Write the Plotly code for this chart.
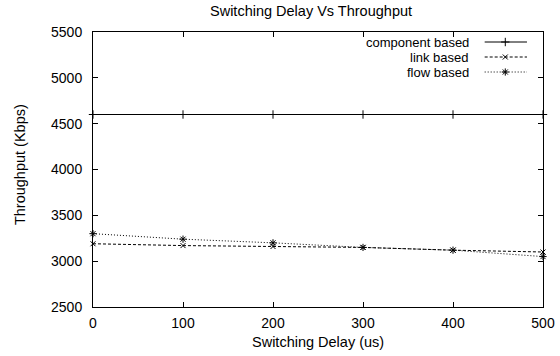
import plotly.graph_objects as go

delay = [0, 100, 200, 300, 400, 500]
component_based = [4600, 4600, 4600, 4600, 4600, 4600]
link_based = [3190, 3170, 3160, 3150, 3120, 3100]
flow_based = [3300, 3240, 3200, 3150, 3120, 3050]

series_names = ["component based", "link based", "flow based"]
x_ticks = [0, 100, 200, 300, 400, 500]
y_ticks = [2500, 3000, 3500, 4000, 4500, 5000, 5500]

FONT = "Liberation Sans, Arial, sans-serif"
TXT = 14.5
styles = [
    dict(dash="solid", symbol="cross-thin-open", size=6),
    dict(dash="3px,2px", symbol="x-thin-open", size=5),
    dict(dash="1px,2px", symbol="asterisk-open", size=6),
]

fig = go.Figure()
for name, ys, st in zip(series_names, [component_based, link_based, flow_based], styles):
    fig.add_trace(go.Scatter(
        x=delay, y=ys, mode="lines+markers", name=name, showlegend=False,
        line=dict(color="black", width=1, dash=st["dash"]),
        marker=dict(symbol=st["symbol"], size=st["size"], color="black",
                    line=dict(color="black", width=1)),
        cliponaxis=False,
    ))

# custom legend (text left, sample right) on an overlay axis in 0..1 space
leg_y = [0.9636, 0.9091, 0.8545]
for name, yy, st in zip(series_names, leg_y, styles):
    fig.add_trace(go.Scatter(
        x=[0.8704, 0.9162, 0.9644], y=[yy, yy, yy], xaxis="x2", yaxis="y2",
        mode="lines", showlegend=False, hoverinfo="skip",
        line=dict(color="black", width=1, dash=st["dash"]),
    ))
    fig.add_trace(go.Scatter(
        x=[0.9162], y=[yy], xaxis="x2", yaxis="y2", mode="markers",
        showlegend=False, hoverinfo="skip",
        marker=dict(symbol=st["symbol"], size=st["size"], color="black",
                    line=dict(color="black", width=1)),
    ))
    fig.add_annotation(x=0.838, y=yy, xref="x2", yref="y2", text=name,
                       showarrow=False, xanchor="right", yanchor="middle",
                       borderpad=0,
                       font=dict(family=FONT, size=13, color="black"))

# title and axis titles
fig.add_annotation(x=0.484, y=1.0764, xref="paper", yref="paper",
                   text="Switching Delay Vs Throughput", showarrow=False,
                   xanchor="center", yanchor="middle",
                   font=dict(family=FONT, size=TXT, color="black"))
fig.add_annotation(x=0.5, y=-0.127, xref="paper", yref="paper",
                   text="Switching Delay (us)", showarrow=False,
                   xanchor="center", yanchor="middle",
                   font=dict(family=FONT, size=TXT, color="black"))
fig.add_annotation(x=-0.1622, y=0.516, xref="paper", yref="paper",
                   text="Throughput (Kbps)", showarrow=False, textangle=-90,
                   xanchor="center", yanchor="middle",
                   font=dict(family=FONT, size=TXT, color="black"))

axis_common = dict(showgrid=False, zeroline=False, showline=True, linecolor="black",
                   linewidth=1, mirror="allticks", ticks="inside", ticklen=5,
                   tickcolor="black", tickwidth=1, automargin=False,
                   tickfont=dict(family=FONT, size=14, color="black"))

fig.update_layout(
    width=560, height=356,
    margin=dict(l=93, r=17, t=32, b=49),
    paper_bgcolor="white", plot_bgcolor="white",
    showlegend=False,
    xaxis=dict(range=[0, 500], tickvals=x_ticks, ticktext=[str(v) for v in x_ticks],
               ticklabelstandoff=3, **axis_common),
    yaxis=dict(range=[2500, 5500], tickvals=y_ticks, ticktext=[str(v) for v in y_ticks],
               ticklabelstandoff=7, **axis_common),
    xaxis2=dict(range=[0, 1], overlaying="x", visible=False, fixedrange=True),
    yaxis2=dict(range=[0, 1], overlaying="y", visible=False, fixedrange=True),
)

fig.write_html("out.html")
